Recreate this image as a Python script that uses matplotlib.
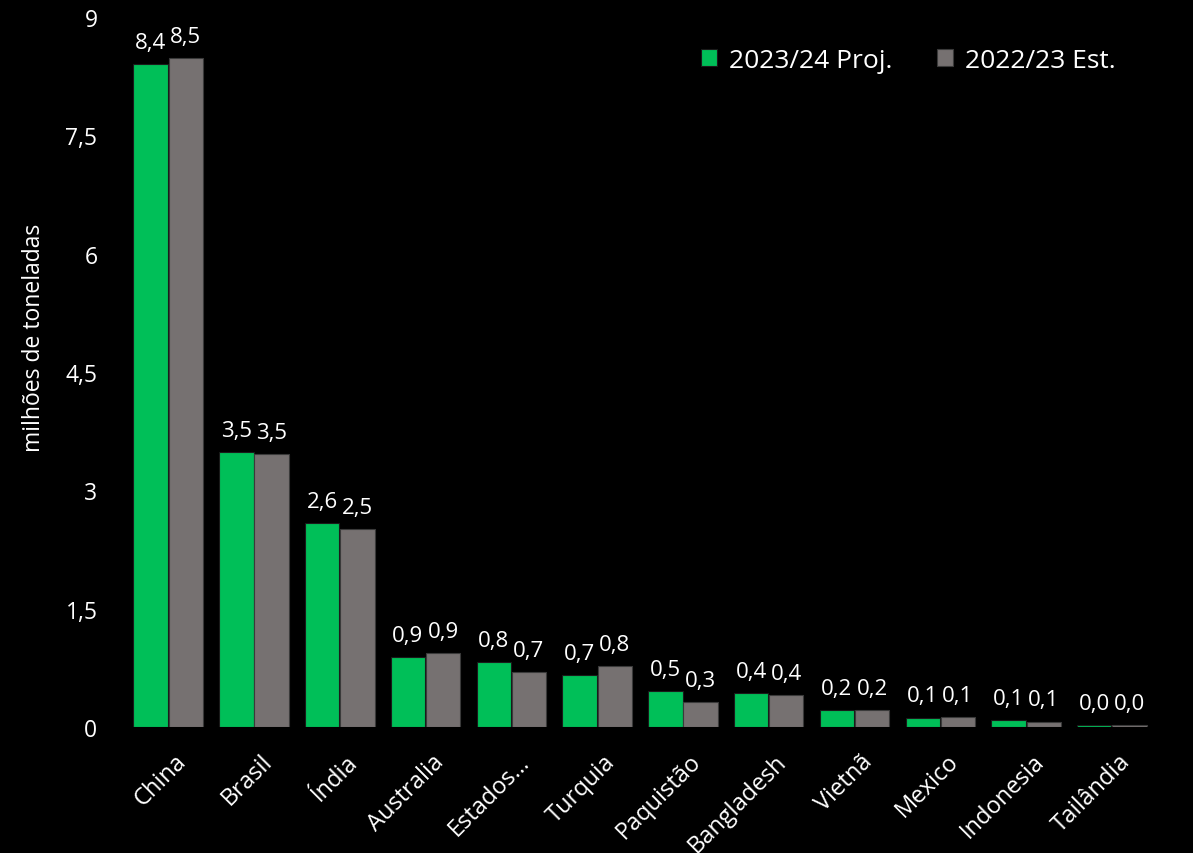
import matplotlib
matplotlib.use('Agg')
import matplotlib.pyplot as plt
import matplotlib.transforms as mtransforms
import numpy as np

paises = ['China', 'Brasil', 'Índia', 'Australia', 'Estados…', 'Turquia',
          'Paquistão', 'Bangladesh', 'Vietnã', 'Mexico', 'Indonesia', 'Tailândia']
proj_2324 = [8.40, 3.49, 2.59, 0.89, 0.82, 0.66, 0.46, 0.43, 0.22, 0.12, 0.09, 0.03]
est_2223 = [8.48, 3.46, 2.51, 0.94, 0.70, 0.77, 0.32, 0.41, 0.22, 0.13, 0.07, 0.03]
yticks = [0, 1.5, 3, 4.5, 6, 7.5, 9]

verde = '#00BF58'
cinza = '#767171'

plt.rcParams['font.family'] = ['Open Sans', 'DejaVu Sans']

fig = plt.figure(figsize=(11.93, 8.54), dpi=100, facecolor='black')
ax = fig.add_axes([0.105, 0.1475, 0.863, 0.8315], facecolor='black')

x = np.arange(len(paises))
w = 0.4
b1 = ax.bar(x - w / 2 - 0.005, proj_2324, w, color=verde, edgecolor='#1a1a1a', linewidth=0.8,
            label='2023/24 Proj.')
b2 = ax.bar(x + w / 2 + 0.005, est_2223, w, color=cinza, edgecolor='#3a3a3a', linewidth=0.8,
            label='2022/23 Est.')

fmt = lambda v: f'{v:.1f}'.replace('.', ',')
ax.bar_label(b1, labels=[fmt(v) for v in proj_2324], padding=8, color='white', fontsize=16)
ax.bar_label(b2, labels=[fmt(v) for v in est_2223], padding=8, color='white', fontsize=16)

ax.set_xlim(-0.5, len(paises) - 0.5)
ax.set_ylim(0, 9)
ax.set_yticks(yticks)
ax.set_yticklabels([fmt(v).replace(',0', '') for v in yticks])
ax.tick_params(axis='y', length=0, pad=20, colors='white', labelsize=16.5)
ax.set_xticks(x)
ax.set_xticklabels(paises, rotation=45, ha='right', rotation_mode='anchor')
ax.tick_params(axis='x', length=0, pad=16, colors='white', labelsize=17)
desloc = mtransforms.ScaledTranslation(6 / 100, 0, fig.dpi_scale_trans)
for lbl in ax.get_xticklabels():
    lbl.set_transform(lbl.get_transform() + desloc)
for s in ax.spines.values():
    s.set_visible(False)

ax.set_ylabel('milhões de toneladas', color='white', fontsize=16.5)
ax.yaxis.set_label_coords(-0.077, 0.55)

ax.legend(loc='upper right', bbox_to_anchor=(0.985, 0.99), ncol=2, frameon=False,
          fontsize=19, labelcolor='white', handlelength=0.6, handleheight=0.6,
          handletextpad=0.45, columnspacing=1.7)

fig.savefig('out.png', dpi=100, facecolor='black')
